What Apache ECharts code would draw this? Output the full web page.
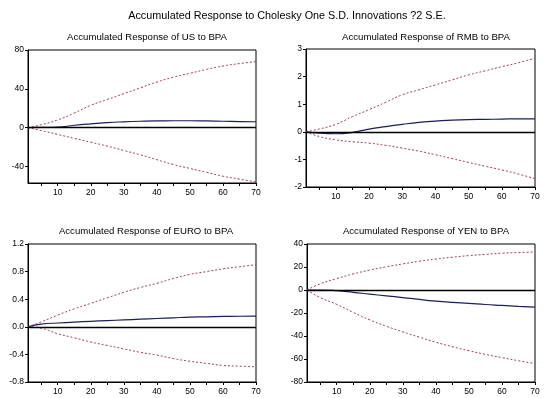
<!DOCTYPE html>
<html>
<head>
<meta charset="utf-8">
<script src="https://cdn.jsdelivr.net/npm/echarts@6/dist/echarts.min.js"></script>
<style>
  html, body { margin: 0; padding: 0; background: #fff; }
  #main { width: 550px; height: 398px; }
</style>
</head>
<body>
<div id="main"></div>
<script>
// periods (every 5 steps)
var periods = [1, 5, 10, 15, 20, 25, 30, 35, 40, 45, 50, 55, 60, 65, 70];

var usUpper = [0, 3, 8, 15, 23, 29, 35, 41, 47, 52, 56, 60, 63.5, 66, 68];
var usMid = [0, 0.2, 0.5, 2.5, 4, 5.2, 6, 6.6, 7, 7.1, 7.1, 6.9, 6.6, 6.3, 6.1];
var usLower = [0, -3, -7, -11, -15, -19, -23.5, -28, -33, -38, -42, -46, -50, -53, -56];

var rmbUpper = [0, 0.1, 0.27, 0.55, 0.8, 1.07, 1.34, 1.52, 1.7, 1.88, 2.06, 2.21, 2.36, 2.5, 2.67];
var rmbMid = [0, -0.05, -0.07, -0.02, 0.1, 0.19, 0.27, 0.34, 0.39, 0.42, 0.44, 0.45, 0.46, 0.47, 0.47];
var rmbLower = [0, -0.17, -0.29, -0.36, -0.41, -0.49, -0.59, -0.7, -0.83, -0.97, -1.11, -1.25, -1.38, -1.53, -1.7];

var euroUpper = [0, 0.07, 0.17, 0.26, 0.34, 0.42, 0.5, 0.57, 0.63, 0.7, 0.76, 0.8, 0.84, 0.87, 0.9];
var euroMid = [0, 0.04, 0.055, 0.068, 0.08, 0.09, 0.1, 0.11, 0.12, 0.13, 0.14, 0.145, 0.15, 0.153, 0.155];
var euroLower = [0, -0.02, -0.1, -0.16, -0.22, -0.27, -0.32, -0.37, -0.41, -0.46, -0.5, -0.53, -0.56, -0.57, -0.58];

var yenUpper = [0, 5.4, 9.9, 14, 17.3, 20.2, 22.7, 25, 26.9, 28.5, 29.9, 31, 32, 32.6, 33];
var yenMid = [0, 0, -0.6, -2, -3.6, -5.1, -6.6, -8.2, -9.6, -10.7, -11.6, -12.6, -13.4, -14.2, -14.9];
var yenLower = [0, -6.6, -12.5, -19.5, -26, -31.5, -36.4, -41, -45.4, -49.3, -52.8, -56, -58.8, -61.5, -63.9];

// y tick labels of each panel
var usTicks = [-40, 0, 40, 80];
var rmbTicks = [-2, -1, 0, 1, 2, 3];
var euroTicks = [-0.8, -0.4, 0.0, 0.4, 0.8, 1.2];
var yenTicks = [-80, -60, -40, -20, 0, 20, 40];

var titles = [
    'Accumulated Response of US to BPA',
    'Accumulated Response of RMB to BPA',
    'Accumulated Response of EURO to BPA',
    'Accumulated Response of YEN to BPA'
];

// category names 1..70
var categories = [];
for (var i = 1; i <= 70; i++) {
    categories.push(String(i));
}

var FONT = 'Liberation Sans';
var dashColor = '#a0405e';
var midColor = '#1c1c5a';

function pairs(vals) {
    var out = [];
    for (var i = 0; i < periods.length; i++) {
        out.push([String(periods[i]), vals[i]]);
    }
    return out;
}

function xAxisFor(idx) {
    return {
        type: 'category',
        gridIndex: idx,
        data: categories,
        boundaryGap: false,
        axisLine: { show: true, onZero: false, lineStyle: { color: '#000', width: 1 } },
        axisTick: {
            show: true,
            length: 3,
            inside: false,
            interval: function (index, value) { return Number(value) % 5 === 0; },
            lineStyle: { color: '#000' }
        },
        axisLabel: {
            interval: function (index, value) { return Number(value) % 10 === 0; },
            fontSize: 8.5,
            fontFamily: FONT,
            color: '#000',
            margin: 5
        },
        splitLine: { show: false }
    };
}

function yAxisFor(idx, min, max, ticks, fmt) {
    return {
        type: 'value',
        gridIndex: idx,
        min: min,
        max: max,
        axisLine: { show: true, lineStyle: { color: '#000', width: 1 } },
        axisTick: { show: true, length: 3, customValues: ticks, lineStyle: { color: '#000' } },
        axisLabel: {
            customValues: ticks,
            fontSize: 8.5,
            fontFamily: FONT,
            color: '#000',
            margin: 4,
            showMinLabel: true,
            showMaxLabel: true,
            formatter: fmt
        },
        splitLine: { show: false }
    };
}

function seriesFor(idx, upper, mid, lower) {
    return [{
        type: 'line',
        xAxisIndex: idx,
        yAxisIndex: idx,
        data: pairs(upper),
        smooth: true,
        symbol: 'none',
        lineStyle: { color: dashColor, width: 1, type: [2, 2] }
    }, {
        type: 'line',
        xAxisIndex: idx,
        yAxisIndex: idx,
        data: pairs(mid),
        smooth: true,
        symbol: 'none',
        z: 3,
        lineStyle: { color: midColor, width: 1.2 },
        markLine: {
            silent: true,
            symbol: 'none',
            label: { show: false },
            lineStyle: { color: '#000', width: 1.4, type: 'solid' },
            data: [{ yAxis: 0 }]
        }
    }, {
        type: 'line',
        xAxisIndex: idx,
        yAxisIndex: idx,
        data: pairs(lower),
        smooth: true,
        symbol: 'none',
        lineStyle: { color: dashColor, width: 1, type: [2, 2] }
    }];
}

var grids = [
    { left: 28, top: 50, width: 228, height: 133 },
    { left: 306, top: 49, width: 229, height: 138 },
    { left: 28, top: 244, width: 228, height: 138 },
    { left: 307, top: 244, width: 228, height: 138 }
];
for (var g = 0; g < grids.length; g++) {
    grids[g].show = true;
    grids[g].borderColor = '#000';
    grids[g].borderWidth = 1;
    grids[g].backgroundColor = '#fff';
}

var subTitleStyle = { fontSize: 9.6, fontWeight: 'normal', fontFamily: FONT, color: '#000' };

var option = {
    backgroundColor: '#fff',
    animation: false,
    title: [{
        text: 'Accumulated Response to Cholesky One S.D. Innovations ?2 S.E.',
        left: 282, top: 6, textAlign: 'center',
        textStyle: { fontSize: 10.8, fontWeight: 'normal', fontFamily: FONT, color: '#000' }
    }, {
        text: titles[0], left: 142, top: 27, textAlign: 'center', textStyle: subTitleStyle
    }, {
        text: titles[1], left: 421, top: 27, textAlign: 'center', textStyle: subTitleStyle
    }, {
        text: titles[2], left: 141, top: 221, textAlign: 'center', textStyle: subTitleStyle
    }, {
        text: titles[3], left: 421, top: 221, textAlign: 'center', textStyle: subTitleStyle
    }],
    grid: grids,
    xAxis: [xAxisFor(0), xAxisFor(1), xAxisFor(2), xAxisFor(3)],
    yAxis: [
        yAxisFor(0, -57, 80, usTicks),
        yAxisFor(1, -2, 3, rmbTicks),
        yAxisFor(2, -0.8, 1.2, euroTicks, function (v) { return v.toFixed(1); }),
        yAxisFor(3, -80, 40, yenTicks)
    ],
    series: [].concat(
        seriesFor(0, usUpper, usMid, usLower),
        seriesFor(1, rmbUpper, rmbMid, rmbLower),
        seriesFor(2, euroUpper, euroMid, euroLower),
        seriesFor(3, yenUpper, yenMid, yenLower)
    )
};

var chart = echarts.init(document.getElementById('main'), null, { renderer: 'canvas' });
chart.setOption(option);
</script>
</body>
</html>
